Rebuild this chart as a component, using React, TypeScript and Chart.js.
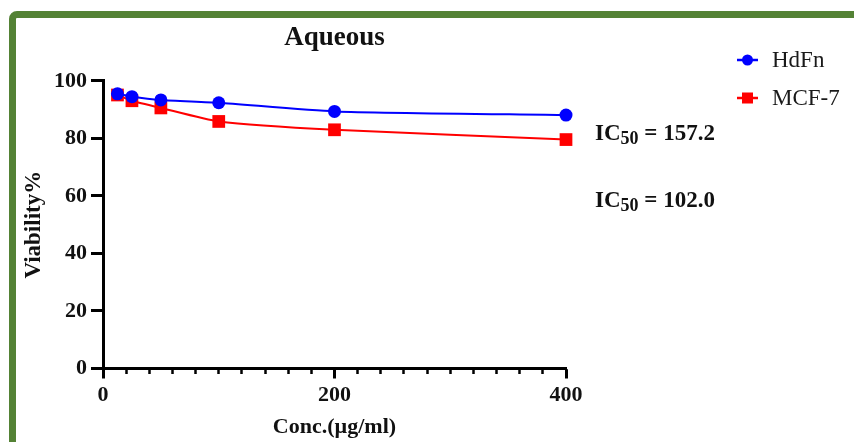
import React, { useEffect, useRef } from "react";
import { Chart, registerables } from "chart.js";

Chart.register(...registerables);

const concentrations = [12.5, 25, 50, 100, 200, 400];
const hdfnViability = [95.5, 94.5, 93.4, 92.4, 89.4, 88.1];
const mcf7Viability = [95.1, 93.1, 90.6, 85.9, 83.0, 79.6];
const seriesLabels = ["HdFn", "MCF-7"];
const ic50Values = ["157.2", "102.0"];
const xTickValues = [0, 200, 400];

const SERIF = "'Liberation Serif', 'Times New Roman', serif";

const sideLegend = {
  id: "sideLegend",
  afterDraw(chart: any, _args: any, opts: any) {
    const { ctx } = chart;
    chart.data.datasets.forEach((ds: any, i: number) => {
      const y = opts.y + i * opts.gap;
      ctx.save();
      ctx.strokeStyle = ds.borderColor;
      ctx.lineWidth = 2.5;
      ctx.beginPath();
      ctx.moveTo(opts.x, y);
      ctx.lineTo(opts.x + opts.lineLen, y);
      ctx.stroke();
      ctx.fillStyle = ds.pointBackgroundColor;
      const cx = opts.x + opts.lineLen / 2;
      if (ds.pointStyle === "rect") {
        const s = opts.square;
        ctx.fillRect(cx - s / 2, y - s / 2, s, s);
      } else {
        ctx.beginPath();
        ctx.arc(cx, y, opts.circle, 0, Math.PI * 2);
        ctx.fill();
      }
      ctx.fillStyle = "#1a1a1a";
      ctx.font = `23px ${SERIF}`;
      ctx.textBaseline = "middle";
      ctx.textAlign = "left";
      ctx.fillText(ds.label, opts.textX, y + 0.5);
      ctx.restore();
    });
  },
};

const icLabels = {
  id: "icLabels",
  afterDraw(chart: any, _args: any, opts: any) {
    const { ctx } = chart;
    ic50Values.forEach((v, i) => {
      const y = opts.baselines[i];
      let x = opts.x;
      ctx.save();
      ctx.fillStyle = "#111";
      ctx.textBaseline = "alphabetic";
      ctx.textAlign = "left";
      ctx.font = `bold 23px ${SERIF}`;
      ctx.fillText("IC", x, y);
      x += ctx.measureText("IC").width;
      ctx.font = `bold 18px ${SERIF}`;
      ctx.fillText("50", x, y + 4);
      x += ctx.measureText("50").width;
      ctx.font = `bold 23px ${SERIF}`;
      ctx.fillText(" = " + v, x, y);
      ctx.restore();
    });
  },
};

export default function App() {
  const ref = useRef<HTMLCanvasElement | null>(null);

  useEffect(() => {
    if (!ref.current) return;
    const chart = new Chart(ref.current, {
      type: "line",
      data: {
        datasets: [
          {
            label: seriesLabels[0],
            data: concentrations.map((c, i) => ({ x: c, y: hdfnViability[i] })),
            borderColor: "#0000ff",
            backgroundColor: "#0000ff",
            pointBackgroundColor: "#0000ff",
            pointBorderWidth: 0,
            pointRadius: 6.5,
            pointStyle: "circle",
            borderWidth: 2,
            tension: 0.2,
            clip: false as any,
          },
          {
            label: seriesLabels[1],
            data: concentrations.map((c, i) => ({ x: c, y: mcf7Viability[i] })),
            borderColor: "#ff0000",
            backgroundColor: "#ff0000",
            pointBackgroundColor: "#ff0000",
            pointBorderWidth: 0,
            pointRadius: 9,
            pointStyle: "rect",
            borderWidth: 2,
            tension: 0.2,
            clip: false as any,
          },
        ],
      },
      options: {
        animation: false,
        responsive: false,
        layout: { padding: { top: 21, right: 288, bottom: 0, left: 0 } },
        plugins: {
          legend: { display: false },
          tooltip: { enabled: false },
          title: {
            display: true,
            text: "Aqueous",
            fullSize: false,
            color: "#111",
            font: { family: SERIF, size: 27, weight: "bold" },
            padding: { top: 0.5, bottom: 27 },
          },
          sideLegend: { x: 737, y: 60, gap: 38, lineLen: 21, textX: 772, circle: 5.5, square: 11 },
          icLabels: { x: 595, baselines: [140, 207] },
        } as any,
        scales: {
          x: {
            type: "linear",
            min: 0,
            max: 400,
            afterFit: (s: any) => {
              s.height = 73.5;
            },
            afterBuildTicks: (s: any) => {
              s.ticks = xTickValues.map((v) => ({ value: v }));
            },
            ticks: {
              color: "#111",
              font: { family: SERIF, size: 22, weight: "bold" },
              padding: 4,
              maxRotation: 0,
              autoSkip: false,
            },
            grid: {
              drawOnChartArea: false,
              tickLength: 10,
              tickWidth: 3,
              tickColor: "#000",
            },
            border: { display: true, width: 3, color: "#000" },
            title: {
              display: true,
              text: "Conc.(µg/ml)",
              color: "#111",
              font: { family: SERIF, size: 22, weight: "bold" },
              padding: { top: 0, bottom: 1 },
            },
          },
          xMinor: {
            type: "linear",
            axis: "x",
            position: { y: 0 } as any,
            min: 0,
            max: 400,
            ticks: { display: false, stepSize: 20 },
            grid: {
              drawOnChartArea: false,
              tickLength: 5,
              tickWidth: 2.5,
              tickColor: "#000",
            },
            border: { display: false },
          } as any,
          y: {
            type: "linear",
            min: 0,
            max: 100,
            afterFit: (s: any) => {
              s.width = 103;
            },
            ticks: {
              stepSize: 20,
              color: "#111",
              font: { family: SERIF, size: 22, weight: "bold" },
              padding: 4,
            },
            grid: {
              drawOnChartArea: false,
              tickLength: 12,
              tickWidth: 3,
              tickColor: "#000",
            },
            border: { display: true, width: 3, color: "#000" },
            title: {
              display: true,
              text: "Viability%",
              color: "#111",
              font: { family: SERIF, size: 23, weight: "bold" },
              padding: { top: 20, bottom: 0 },
            },
          },
        },
      },
      plugins: [sideLegend, icLabels],
    });
    return () => chart.destroy();
  }, []);

  return (
    <div
      style={{
        position: "fixed",
        left: 0,
        top: 0,
        width: 854,
        height: 442,
        overflow: "hidden",
        background: "#fff",
      }}
    >
      <div
        style={{
          position: "absolute",
          left: 9,
          top: 11,
          width: 900,
          height: 500,
          border: "7.5px solid #548235",
          borderRadius: 8,
          boxSizing: "border-box",
        }}
      />
      <canvas
        ref={ref}
        width={854}
        height={442}
        style={{ position: "absolute", left: 0, top: 0, width: 854, height: 442 }}
      />
    </div>
  );
}
